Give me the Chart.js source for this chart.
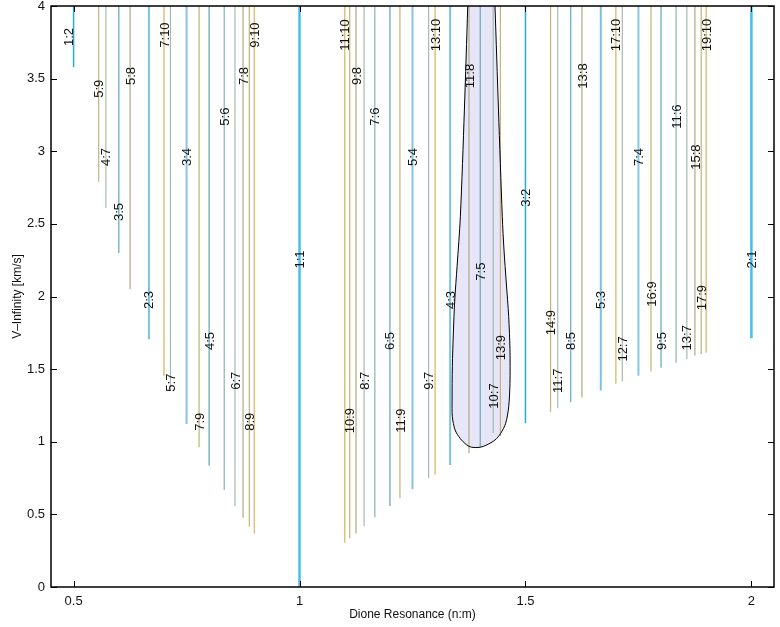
<!DOCTYPE html>
<html>
<head>
<meta charset="utf-8">
<title>Dione Resonance vs V-Infinity</title>
<script src="https://cdn.jsdelivr.net/npm/chart.js@4.4.1/dist/chart.umd.min.js"></script>
<style>
  html, body { margin: 0; padding: 0; background: #fff; }
  #wrap { width: 780px; height: 627px; }
</style>
</head>
<body>
<div id="wrap"><canvas id="c" width="780" height="627"></canvas></div>
<script>
// Resonances n:m, ordered by period ratio
const resonances = [
  '1:2', '5:9', '4:7', '3:5', '5:8', '2:3', '7:10', '5:7', '3:4', '7:9',
  '4:5', '5:6', '6:7', '7:8', '8:9', '9:10', '1:1', '11:10', '10:9', '9:8',
  '8:7', '7:6', '6:5', '11:9', '5:4', '9:7', '13:10', '4:3', '11:8', '7:5',
  '10:7', '13:9', '3:2', '14:9', '11:7', '8:5', '13:8', '5:3', '17:10', '12:7',
  '7:4', '16:9', '9:5', '11:6', '13:7', '15:8', '17:9', '19:10', '2:1'
];

// Lowest reachable V-infinity for each resonance [km/s]
const vInfMin = [
  3.58, 2.79, 2.61, 2.30, 2.05, 1.705, 1.453, 1.35, 1.122, 0.962,
  0.835, 0.668, 0.558, 0.477, 0.415, 0.369, 0.0, 0.305, 0.335, 0.369,
  0.42, 0.48, 0.558, 0.611, 0.673, 0.75, 0.775, 0.84, 0.92, 0.965,
  1.06, 1.04, 1.127, 1.207, 1.23, 1.272, 1.304, 1.352, 1.40, 1.414,
  1.455, 1.483, 1.51, 1.544, 1.57, 1.593, 1.604, 1.613, 1.712
];

// V-infinity at which each resonance is labelled
const labelLevel = [
  3.787, 3.43, 2.96, 2.582, 3.518, 1.976, 3.80, 1.407, 2.96, 1.138,
  1.694, 3.238, 1.42, 3.518, 1.138, 3.80, 2.255, 3.80, 1.145, 3.518,
  1.42, 3.238, 1.694, 1.145, 2.96, 1.42, 3.80, 1.976, 3.518, 2.171,
  1.315, 1.648, 2.68, 1.82, 1.42, 1.694, 3.518, 1.976, 3.80, 1.639,
  2.96, 2.017, 1.694, 3.238, 1.716, 2.96, 1.992, 3.80, 2.255
];

// Upper end of every resonance line [km/s]
const vInfMax = 4;

// Highlighted window boundary (resonance ratio, V-infinity)
const regionRatio = [
  1.3723, 1.3648, 1.3559, 1.3486, 1.3435, 1.3404, 1.3382, 1.3376, 1.3382, 1.3442,
  1.3552, 1.3700, 1.3811, 1.3994, 1.4142, 1.4326, 1.4452, 1.4562, 1.4629, 1.4657,
  1.4657, 1.4629, 1.4576, 1.4525, 1.4487, 1.4403, 1.4326
];
const regionVInf = [
  4.000, 3.284, 2.549, 2.205, 1.976, 1.749, 1.517, 1.287, 1.172, 1.081,
  1.024, 0.978, 0.962, 0.962, 0.978, 1.012, 1.058, 1.127, 1.241, 1.402,
  1.632, 1.861, 2.093, 2.320, 2.549, 3.284, 4.000
];

const xTicks = [0.5, 1, 1.5, 2];
const yTicks = [0, 0.5, 1, 1.5, 2, 2.5, 3, 3.5, 4];

// Line colour and width by resonance denominator
const colorByM = {
  1: '#45BEEF', 2: '#27A9E1', 3: '#78C3E3', 4: '#86C6DE', 5: '#7FB6C7',
  6: '#84B2BA', 7: '#A6BBB0', 8: '#ADAA86', 9: '#C2B27A', 10: '#DBC27C'
};
const widthByM = {
  1: 2.5, 2: 1.5, 3: 2, 4: 2, 5: 1.5, 6: 1.2, 7: 1.2, 8: 1.2, 9: 1.2, 10: 1.5
};
const labelNudge = { '1:2': -5 };

const FONT = '"Liberation Sans", Arial, Helvetica, sans-serif';

function parseRes(name) {
  const [n, m] = name.split(':').map(Number);
  return { n, m, ratio: n / m };
}

const regionPoints = regionRatio.map((r, i) => ({ x: r, y: regionVInf[i] }));

const resonanceSets = resonances.map((name, i) => {
  const { m, ratio } = parseRes(name);
  return {
    label: name,
    data: [{ x: ratio, y: vInfMin[i] }, { x: ratio, y: vInfMax }],
    borderColor: colorByM[m],
    borderWidth: widthByM[m],
    pointRadius: 0,
    fill: false,
    tension: 0
  };
});

const datasets = [
  {
    label: 'window edge',
    data: regionPoints,
    borderColor: '#000',
    borderWidth: 1,
    pointRadius: 0,
    fill: false,
    tension: 0.3
  },
  ...resonanceSets,
  {
    label: 'window',
    data: regionPoints,
    borderWidth: 0,
    borderColor: 'rgba(0,0,0,0)',
    backgroundColor: '#E6E6F8',
    pointRadius: 0,
    fill: 'shape',
    tension: 0.3
  }
];

// Resonance names, written vertically along their lines
const resonanceLabels = {
  id: 'resonanceLabels',
  afterDatasetsDraw(chart) {
    const { ctx } = chart;
    const x = chart.scales.x, y = chart.scales.y;
    ctx.save();
    ctx.font = '13px ' + FONT;
    ctx.fillStyle = '#111';
    ctx.textAlign = 'center';
    ctx.textBaseline = 'middle';
    resonances.forEach((name, i) => {
      const px = x.getPixelForValue(parseRes(name).ratio) + (labelNudge[name] || 0);
      const py = y.getPixelForValue(labelLevel[i]);
      ctx.save();
      ctx.translate(px, py);
      ctx.rotate(-Math.PI / 2);
      ctx.fillText(name, 0, 1);
      ctx.restore();
    });
    ctx.restore();
  }
};

// Box frame with inward tick marks on all four sides
const boxFrame = {
  id: 'boxFrame',
  afterDraw(chart) {
    const { ctx, chartArea: a } = chart;
    const x = chart.scales.x, y = chart.scales.y;
    const len = 6;
    ctx.save();
    ctx.strokeStyle = '#000';
    ctx.lineWidth = 1;
    ctx.beginPath();
    xTicks.forEach(v => {
      const px = Math.round(x.getPixelForValue(v)) + 0.5;
      ctx.moveTo(px, a.bottom); ctx.lineTo(px, a.bottom - len);
      ctx.moveTo(px, a.top); ctx.lineTo(px, a.top + len);
    });
    yTicks.forEach(v => {
      const py = Math.round(y.getPixelForValue(v)) + 0.5;
      ctx.moveTo(a.left, py); ctx.lineTo(a.left + len, py);
      ctx.moveTo(a.right, py); ctx.lineTo(a.right - len, py);
    });
    ctx.stroke();
    ctx.lineWidth = 1.5;
    ctx.strokeRect(a.left, a.top, a.right - a.left, a.bottom - a.top);
    ctx.restore();
  }
};

new Chart(document.getElementById('c'), {
  type: 'line',
  data: { datasets },
  plugins: [resonanceLabels, boxFrame],
  options: {
    responsive: false,
    animation: false,
    devicePixelRatio: 1,
    layout: { padding: { top: 6, right: 6, left: 0, bottom: 0 } },
    plugins: {
      legend: { display: false },
      tooltip: { enabled: false },
      filler: { propagate: false }
    },
    scales: {
      x: {
        type: 'linear',
        min: 0.45,
        max: 2.05,
        grid: { display: false, drawTicks: false },
        border: { display: false },
        afterBuildTicks: s => { s.ticks = xTicks.map(v => ({ value: v })); },
        afterFit: s => { s.height = 40; s.paddingLeft = 0; s.paddingRight = 0; },
        ticks: {
          padding: 7,
          color: '#111',
          font: { family: FONT, size: 13 },
          maxRotation: 0,
          callback: v => String(v)
        },
        title: {
          display: true,
          text: 'Dione Resonance (n:m)',
          color: '#111',
          font: { family: FONT, size: 12 },
          padding: { top: 0, bottom: 5 }
        }
      },
      y: {
        type: 'linear',
        min: 0,
        max: 4,
        grid: { display: false, drawTicks: false },
        border: { display: false },
        afterBuildTicks: s => { s.ticks = yTicks.map(v => ({ value: v })); },
        afterFit: s => { s.width = 51; s.paddingTop = 0; s.paddingBottom = 0; },
        ticks: {
          padding: 6,
          color: '#111',
          font: { family: FONT, size: 13 },
          callback: v => String(v)
        },
        title: {
          display: true,
          text: 'V–Infinity [km/s]',
          color: '#111',
          font: { family: FONT, size: 12 },
          padding: { top: 10, bottom: 0 }
        }
      }
    }
  }
});
</script>
</body>
</html>
